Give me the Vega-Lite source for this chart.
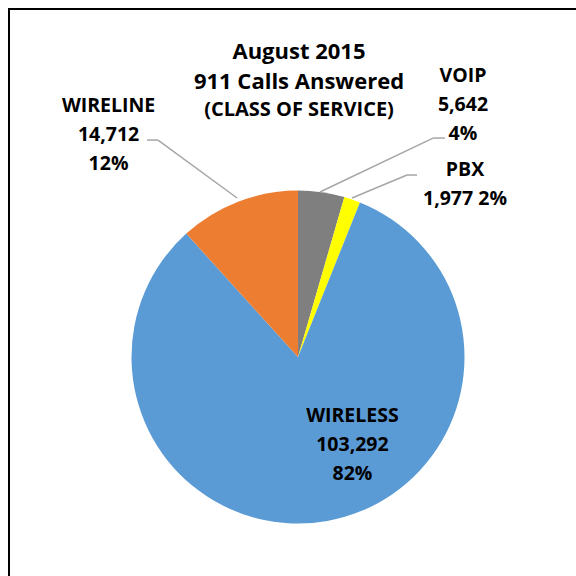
{
  "$schema": "https://vega.github.io/schema/vega-lite/v6.json",
  "autosize": {"type": "none"},
  "padding": {"left": 9, "top": 9, "right": 0, "bottom": 0},
  "width": 580,
  "height": 580,
  "background": "white",
  "view": {"stroke": "black", "strokeWidth": 2},
  "title": {
    "text": ["August 2015", "911 Calls Answered"],
    "subtitle": "(CLASS OF SERVICE)",
    "font": "Open Sans",
    "fontSize": 22,
    "fontWeight": "bold",
    "color": "black",
    "lineHeight": 30,
    "subtitleFont": "Open Sans",
    "subtitleFontSize": 20,
    "subtitleFontWeight": "bold",
    "subtitleColor": "black",
    "subtitlePadding": 6,
    "anchor": "middle",
    "frame": "group",
    "offset": -112
  },
  "data": {
    "values": [
      {"service": "VOIP", "calls": 5642},
      {"service": "PBX", "calls": 1977},
      {"service": "WIRELESS", "calls": 103292},
      {"service": "WIRELINE", "calls": 14712}
    ]
  },
  "transform": [
    {"window": [{"op": "row_number", "as": "slice_order"}]},
    {"joinaggregate": [{"op": "sum", "field": "calls", "as": "total"}]},
    {"calculate": "datum.calls / datum.total", "as": "share"}
  ],
  "layer": [
    {
      "mark": {"type": "arc", "outerRadius": 166.5},
      "encoding": {
        "x": {"datum": 0, "type": "quantitative", "scale": {"domain": [-173.6, 174.8], "nice": false, "zero": false}, "axis": null},
        "y": {"datum": 0, "type": "quantitative", "scale": {"domain": [-139.3, 209.0], "nice": false, "zero": false}, "axis": null},
        "theta": {"field": "calls", "type": "quantitative", "stack": true},
        "order": {"field": "slice_order", "type": "quantitative"},
        "color": {
          "field": "service",
          "type": "nominal",
          "scale": {"domain": ["VOIP", "PBX", "WIRELESS", "WIRELINE"], "range": ["#7F7F7F", "#FFFF00", "#5B9BD5", "#ED7D31"]},
          "legend": null
        }
      }
    },
    {
      "transform": [{"filter": "datum.service == 'WIRELINE'"}],
      "mark": {"type": "rule", "color": "#A6A6A6", "strokeWidth": 1.5},
      "encoding": {
        "x": {"datum": -90.7, "type": "quantitative"},
        "y": {"datum": 130.3, "type": "quantitative"},
        "x2": {"datum": -84.1},
        "y2": {"datum": 130.3}
      }
    },
    {
      "transform": [{"filter": "datum.service == 'WIRELINE'"}],
      "mark": {"type": "rule", "color": "#A6A6A6", "strokeWidth": 1.5},
      "encoding": {
        "x": {"datum": -84.1, "type": "quantitative"},
        "y": {"datum": 130.3, "type": "quantitative"},
        "x2": {"datum": -36.6},
        "y2": {"datum": 95.5}
      }
    },
    {
      "transform": [{"filter": "datum.service == 'VOIP'"}],
      "mark": {"type": "rule", "color": "#A6A6A6", "strokeWidth": 1.5},
      "encoding": {
        "x": {"datum": 13.2, "type": "quantitative"},
        "y": {"datum": 99.1, "type": "quantitative"},
        "x2": {"datum": 81.1},
        "y2": {"datum": 131.5}
      }
    },
    {
      "transform": [{"filter": "datum.service == 'VOIP'"}],
      "mark": {"type": "rule", "color": "#A6A6A6", "strokeWidth": 1.5},
      "encoding": {
        "x": {"datum": 81.1, "type": "quantitative"},
        "y": {"datum": 131.5, "type": "quantitative"},
        "x2": {"datum": 88.3},
        "y2": {"datum": 131.5}
      }
    },
    {
      "transform": [{"filter": "datum.service == 'PBX'"}],
      "mark": {"type": "rule", "color": "#A6A6A6", "strokeWidth": 1.5},
      "encoding": {
        "x": {"datum": 32.4, "type": "quantitative"},
        "y": {"datum": 95.5, "type": "quantitative"},
        "x2": {"datum": 65.5},
        "y2": {"datum": 109.3}
      }
    },
    {
      "transform": [{"filter": "datum.service == 'PBX'"}],
      "mark": {"type": "rule", "color": "#A6A6A6", "strokeWidth": 1.5},
      "encoding": {
        "x": {"datum": 65.5, "type": "quantitative"},
        "y": {"datum": 109.3, "type": "quantitative"},
        "x2": {"datum": 71.5},
        "y2": {"datum": 109.3}
      }
    },
    {
      "transform": [
        {"filter": "datum.service == 'WIRELINE'"},
        {"calculate": "[datum.service, format(datum.calls, ','), format(datum.share, '.0%')]", "as": "label"}
      ],
      "mark": {"type": "text", "font": "Open Sans", "fontWeight": "bold", "fontSize": 19.5, "lineHeight": 29, "align": "center", "baseline": "alphabetic", "color": "black"},
      "encoding": {
        "x": {"datum": -113.8, "type": "quantitative"},
        "y": {"datum": 147.1, "type": "quantitative"},
        "text": {"field": "label"}
      }
    },
    {
      "transform": [
        {"filter": "datum.service == 'VOIP'"},
        {"calculate": "[datum.service, format(datum.calls, ','), format(datum.share, '.0%')]", "as": "label"}
      ],
      "mark": {"type": "text", "font": "Open Sans", "fontWeight": "bold", "fontSize": 19.5, "lineHeight": 29, "align": "center", "baseline": "alphabetic", "color": "black"},
      "encoding": {
        "x": {"datum": 99.1, "type": "quantitative"},
        "y": {"datum": 165.2, "type": "quantitative"},
        "text": {"field": "label"}
      }
    },
    {
      "transform": [
        {"filter": "datum.service == 'PBX'"},
        {"calculate": "[datum.service, format(datum.calls, ',') + ' ' + format(datum.share, '.0%')]", "as": "label"}
      ],
      "mark": {"type": "text", "font": "Open Sans", "fontWeight": "bold", "fontSize": 19.5, "lineHeight": 29, "align": "center", "baseline": "alphabetic", "color": "black"},
      "encoding": {
        "x": {"datum": 100.3, "type": "quantitative"},
        "y": {"datum": 108.7, "type": "quantitative"},
        "text": {"field": "label"}
      }
    },
    {
      "transform": [
        {"filter": "datum.service == 'WIRELESS'"},
        {"calculate": "[datum.service, format(datum.calls, ','), format(datum.share, '.0%')]", "as": "label"}
      ],
      "mark": {"type": "text", "font": "Open Sans", "fontWeight": "bold", "fontSize": 19.5, "lineHeight": 29, "align": "center", "baseline": "alphabetic", "color": "black"},
      "encoding": {
        "x": {"datum": 32.7, "type": "quantitative"},
        "y": {"datum": -39.0, "type": "quantitative"},
        "text": {"field": "label"}
      }
    }
  ]
}
